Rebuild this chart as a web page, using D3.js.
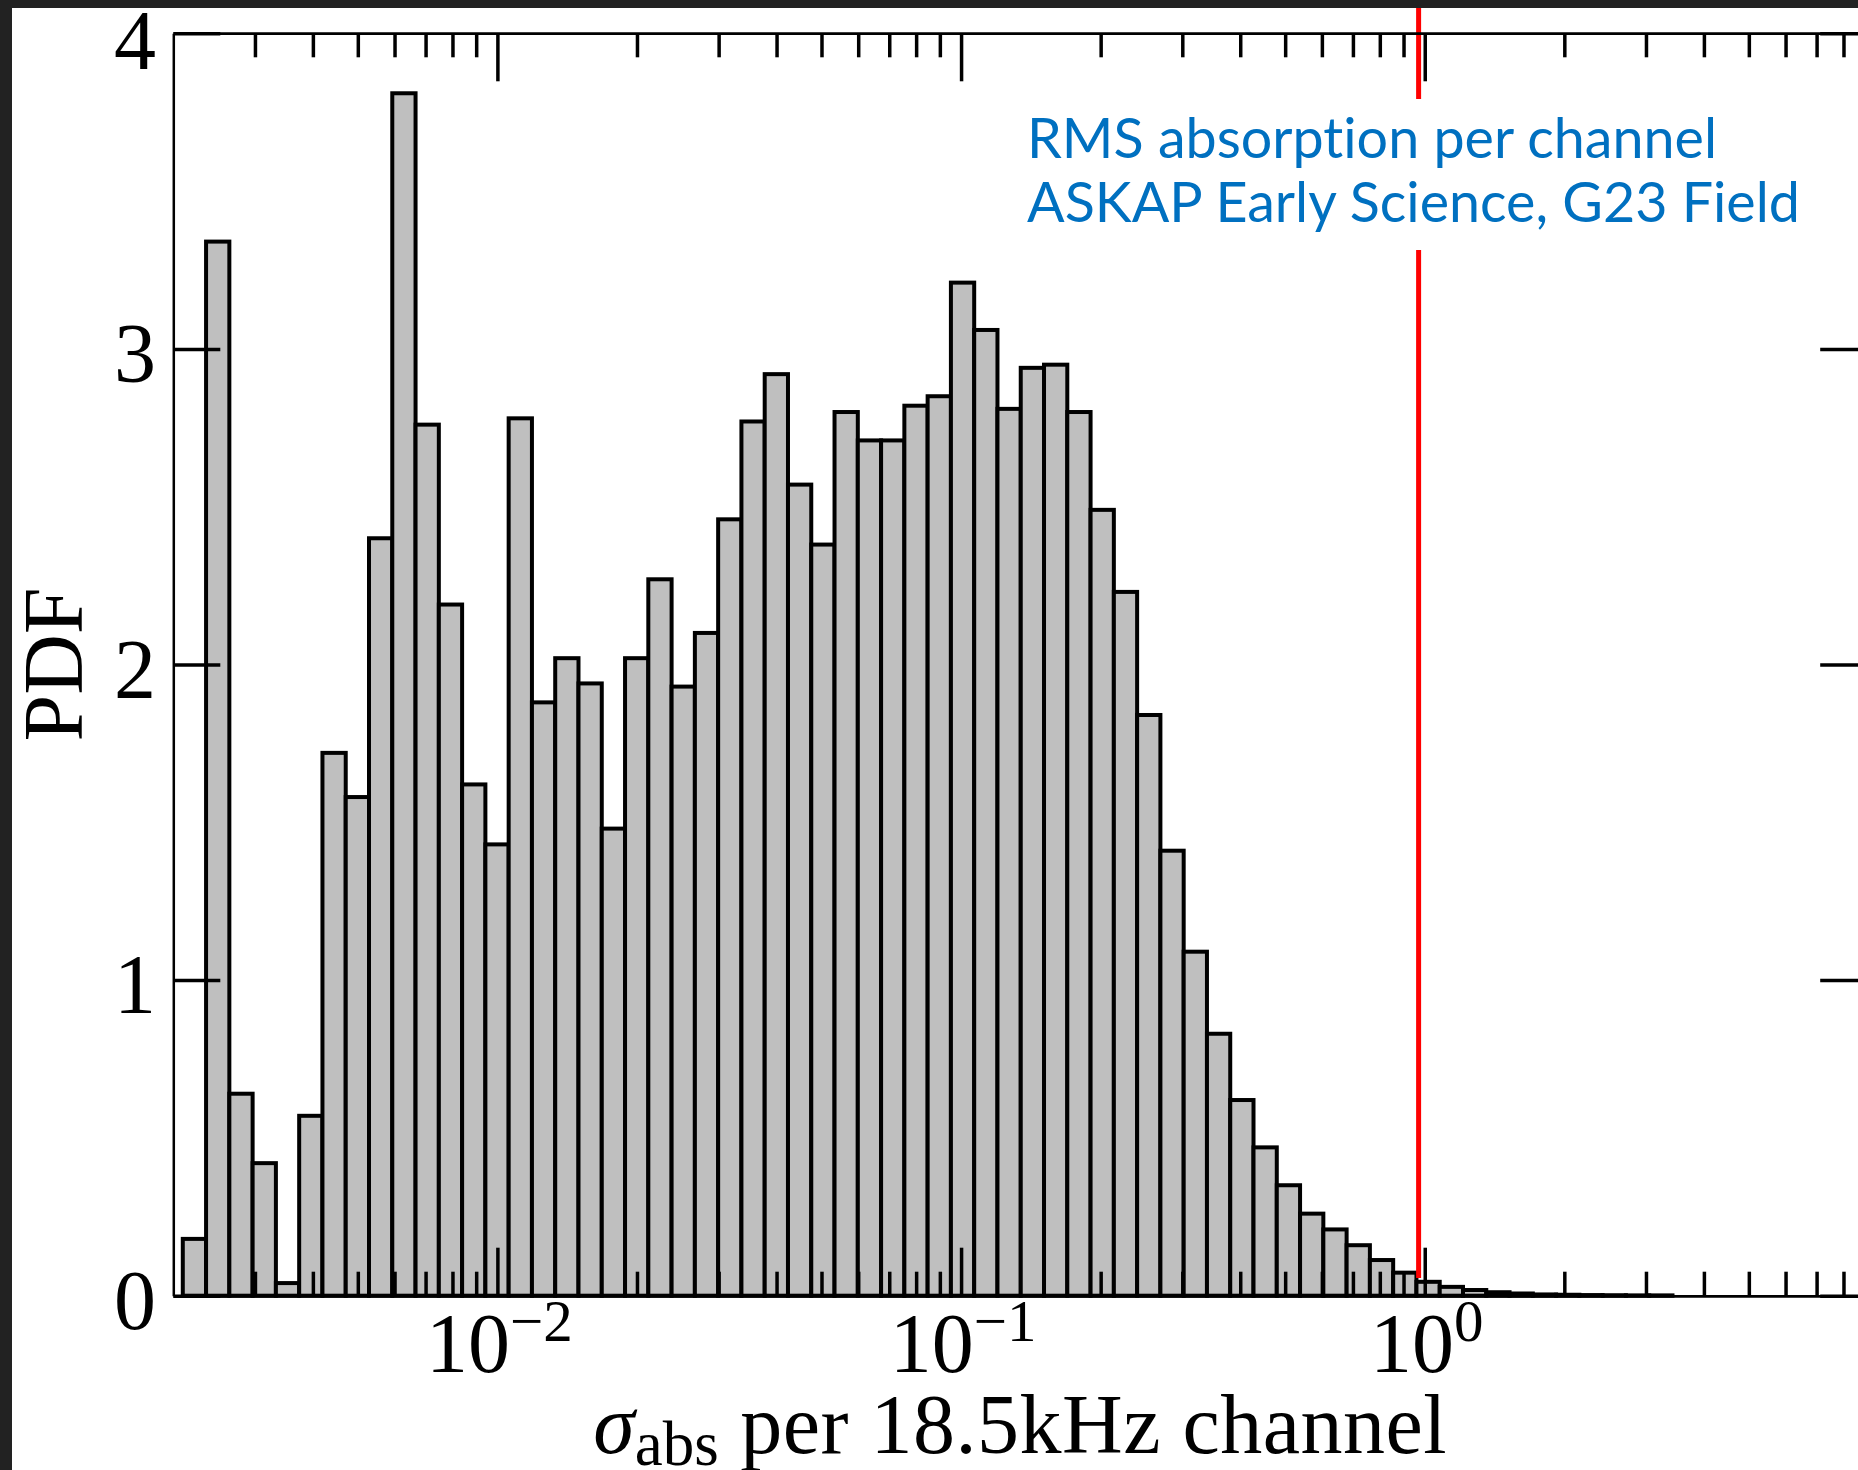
<!DOCTYPE html>
<html>
<head>
<meta charset="utf-8">
<script src="https://cdn.jsdelivr.net/npm/d3@7"></script>
<style>
  body { margin: 0; background: #222; }
  svg { display: block; }
</style>
</head>
<body>
<svg id="chart" width="1858" height="1470"></svg>
<script>
// histogram bin edges as log10(sigma_abs)
var binEdgesLog = [-2.6785, -2.6283, -2.5781, -2.5279, -2.4777, -2.4275, -2.3773, -2.3271, -2.2769, -2.2267,
  -2.1765, -2.1263, -2.0761, -2.0259, -1.9757, -1.9255, -1.8753, -1.8251, -1.7749, -1.7247,
  -1.6745, -1.6243, -1.5741, -1.5239, -1.4737, -1.4235, -1.3733, -1.3231, -1.2729, -1.2227,
  -1.1725, -1.1223, -1.0721, -1.0219, -0.9717, -0.9215, -0.8713, -0.8211, -0.7709, -0.7207,
  -0.6705, -0.6203, -0.5701, -0.5199, -0.4697, -0.4195, -0.3693, -0.3191, -0.2689, -0.2187,
  -0.1685, -0.1183, -0.0681, -0.0179, 0.0323, 0.0825, 0.1327, 0.1829, 0.2331, 0.2833,
  0.3335, 0.3837, 0.4339, 0.4841, 0.5343];

var pdfValues = [0.18, 3.34, 0.64, 0.42, 0.04, 0.57, 1.72, 1.58, 2.40, 3.81,
  2.76, 2.19, 1.62, 1.43, 2.78, 1.88, 2.02, 1.94, 1.48, 2.02,
  2.27, 1.93, 2.10, 2.46, 2.77, 2.92, 2.57, 2.38, 2.80, 2.71,
  2.71, 2.82, 2.85, 3.21, 3.06, 2.81, 2.94, 2.95, 2.80, 2.49,
  2.23, 1.84, 1.41, 1.09, 0.83, 0.62, 0.47, 0.35, 0.26, 0.21,
  0.16, 0.113, 0.073, 0.044, 0.028, 0.018, 0.011, 0.007, 0.004, 0.003,
  0.002, 0.0015, 0.001, 0.001];

var yTickValues = [0, 1, 2, 3, 4];
var xMajorTicks = [0.01, 0.1, 1];
var xMajorExponents = ["\u22122", "\u22121", "0"];
var rmsLimit = 0.97;
var noteLines = ["RMS absorption per channel", "ASKAP Early Science, G23 Field"];

var svg = d3.select("#chart");
var plotLeft = 173.3, plotRight = 1867.2, plotTop = 33.3, plotBottom = 1295.7;
var serif = "'Liberation Serif', 'DejaVu Serif', serif";

svg.append("rect")
  .attr("x", 12).attr("y", 8)
  .attr("width", 1858 - 12).attr("height", 1470 - 8)
  .attr("fill", "#fff");

var x = d3.scaleLog().domain([0.002, 9]).range([plotLeft, plotRight]);
var y = d3.scaleLinear().domain([0, 4]).range([plotBottom, plotTop]);

// bars
var bins = pdfValues.map(function(v, i) {
  return { x0: Math.pow(10, binEdgesLog[i]), x1: Math.pow(10, binEdgesLog[i + 1]), v: v };
});

svg.append("g")
  .selectAll("rect")
  .data(bins)
  .enter()
  .append("rect")
  .attr("x", function(d) { return x(d.x0); })
  .attr("width", function(d) { return x(d.x1) - x(d.x0); })
  .attr("y", function(d) { return y(d.v); })
  .attr("height", function(d) { return y(0) - y(d.v); })
  .attr("fill", "#bfbfbf")
  .attr("stroke", "#000")
  .attr("stroke-width", 4);

// red limit line
svg.append("line")
  .attr("x1", x(rmsLimit)).attr("x2", x(rmsLimit))
  .attr("y1", 8).attr("y2", 1278)
  .attr("stroke", "#ff0000")
  .attr("stroke-width", 5);

// axes, ticks pointing inwards on all four sides
var minorTicks = x.ticks().filter(function(t) {
  var l = Math.log10(t);
  return Math.abs(l - Math.round(l)) > 1e-6 && t > 0.0021;
});

function styleAxis(g, width) {
  g.select(".domain").attr("stroke", "#000").attr("stroke-width", 2.5);
  g.selectAll(".tick line").attr("stroke", "#000").attr("stroke-width", width);
  g.selectAll(".tick text").remove();
}

[["bottom", plotBottom, d3.axisBottom], ["top", plotTop, d3.axisTop]].forEach(function(a) {
  var gMinor = svg.append("g").attr("transform", "translate(0," + a[1] + ")")
    .call(a[2](x).tickValues(minorTicks).tickSize(-24).tickSizeOuter(0).tickFormat(""));
  styleAxis(gMinor, 3.5);
  var gMajor = svg.append("g").attr("transform", "translate(0," + a[1] + ")")
    .call(a[2](x).tickValues(xMajorTicks).tickSize(-48).tickSizeOuter(0).tickFormat(""));
  styleAxis(gMajor, 3.5);
});

var gLeft = svg.append("g").attr("transform", "translate(" + plotLeft + ",0)")
  .call(d3.axisLeft(y).tickValues(yTickValues).tickSize(-47).tickSizeOuter(0).tickFormat(""));
styleAxis(gLeft, 3.5);
var gRight = svg.append("g").attr("transform", "translate(" + plotRight + ",0)")
  .call(d3.axisRight(y).tickValues(yTickValues).tickSize(-47).tickSizeOuter(0).tickFormat(""));
styleAxis(gRight, 3.5);

// tick labels
svg.append("g")
  .selectAll("text")
  .data(yTickValues)
  .enter()
  .append("text")
  .attr("x", 156)
  .attr("y", function(d) { return Math.max(y(d) + 33, 69); })
  .attr("text-anchor", "end")
  .style("font-family", serif)
  .style("font-size", "84px")
  .text(function(d) { return d; });

var xLabels = svg.append("g")
  .selectAll("text")
  .data(xMajorTicks)
  .enter()
  .append("text")
  .attr("x", function(d) { return x(d) + 2; })
  .attr("y", 1372)
  .attr("text-anchor", "middle")
  .style("font-family", serif)
  .style("font-size", "84px");
xLabels.append("tspan").text("10");
xLabels.append("tspan")
  .attr("dy", -31)
  .style("font-size", "59px")
  .text(function(d, i) { return xMajorExponents[i]; });

// axis titles
svg.append("text")
  .attr("transform", "translate(82," + ((plotTop + plotBottom) / 2) + ") rotate(-90)")
  .attr("text-anchor", "middle")
  .style("font-family", serif)
  .style("font-size", "84px")
  .text("PDF");

var xTitle = svg.append("text")
  .attr("x", (plotLeft + plotRight) / 2)
  .attr("y", 1453)
  .attr("text-anchor", "middle")
  .style("font-family", serif)
  .style("font-size", "84px");
xTitle.append("tspan").style("font-style", "italic").text("\u03c3");
xTitle.append("tspan").attr("dy", 12).style("font-size", "63px").text("abs");
xTitle.append("tspan").attr("dy", -12).style("letter-spacing", "0.5px").text(" per 18.5kHz channel");

// annotation with white box
var note = svg.append("g");
note.append("rect")
  .attr("x", 1020).attr("y", 99)
  .attr("width", 790).attr("height", 151)
  .attr("fill", "#fff");
var noteText = note.selectAll("text")
  .data(noteLines)
  .enter()
  .append("text")
  .attr("x", 1027)
  .attr("y", function(d, i) { return 157.7 + i * 64; })
  .attr("fill", "#0070c0")
  .style("font-family", "Lato, 'Noto Sans', sans-serif")
  .style("font-variant-ligatures", "none")
  .style("font-size", "53px")
  .text(function(d) { return d; });
var w = noteText.nodes()[1].getComputedTextLength();
noteText.style("font-size", (53 * 773 / w) + "px");
</script>
</body>
</html>
